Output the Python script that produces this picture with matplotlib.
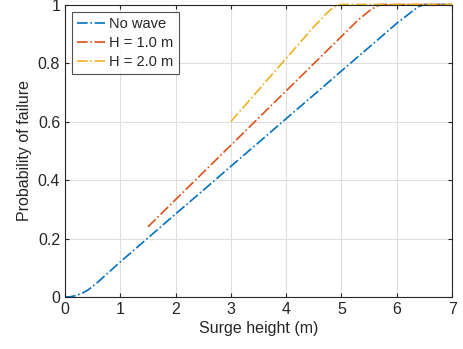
import matplotlib
matplotlib.use("Agg")
import matplotlib.pyplot as plt

# surge height (m) vs probability of failure
x_nowave = [0, 0.1, 0.2, 0.3, 0.4, 0.5, 0.6, 0.8, 1.0, 1.5, 2.0, 2.5, 3.0, 3.5,
            4.0, 4.5, 5.0, 5.5, 6.0, 6.2, 6.3, 6.4, 6.5, 7.0]
p_nowave = [0, 0.001, 0.005, 0.012, 0.022, 0.036, 0.052, 0.086, 0.12, 0.202, 0.284,
            0.365, 0.447, 0.528, 0.61, 0.691, 0.773, 0.854, 0.936, 0.965, 0.98,
            0.993, 1.0, 1.0]

x_h1 = [1.5, 2.0, 2.5, 3.0, 3.5, 4.0, 4.5, 5.0, 5.3, 5.5, 5.6, 5.7, 7.0]
p_h1 = [0.24, 0.333, 0.426, 0.519, 0.612, 0.705, 0.798, 0.891, 0.947, 0.978,
        0.99, 1.0, 1.0]

x_h2 = [3.0, 3.5, 4.0, 4.5, 4.7, 4.8, 4.9, 5.0, 7.0]
p_h2 = [0.6, 0.708, 0.816, 0.924, 0.964, 0.982, 0.995, 1.0, 1.0]

labels = ["No wave", "H = 1.0 m", "H = 2.0 m"]
colors = ["#0072BD", "#D95319", "#EDB120"]

plt.rcParams["font.family"] = ["Liberation Sans", "DejaVu Sans"]
txt = "#262626"

fig = plt.figure(figsize=(4.63, 3.49), dpi=100)
ax = fig.add_axes([0.1404, 0.149, 0.836, 0.838])

for xs, ps, lab, c in zip([x_nowave, x_h1, x_h2], [p_nowave, p_h1, p_h2], labels, colors):
    ax.plot(xs, ps, linestyle="-.", color=c, linewidth=1.2, label=lab, clip_on=False)

ax.set_xlim(0, 7)
ax.set_ylim(0, 1)
ax.set_xticks(range(0, 8))
ax.set_yticks([0, 0.2, 0.4, 0.6, 0.8, 1])
ax.set_yticklabels(["0", "0.2", "0.4", "0.6", "0.8", "1"])
ax.grid(True, color="#dfdfdf", linewidth=0.8)
ax.set_axisbelow(True)
ax.tick_params(direction="in", top=True, right=True, length=3, labelsize=11.5,
               colors=txt, width=0.8)
for s in ax.spines.values():
    s.set_color(txt)
    s.set_linewidth(0.8)

ax.set_xlabel("Surge height (m)", fontsize=11.5, color=txt, labelpad=3)
ax.set_ylabel("Probability of failure", fontsize=11.5, color=txt, labelpad=4)

leg = ax.legend(loc="upper left", fontsize=10.5, frameon=True, fancybox=False,
                edgecolor=txt, handlelength=1.9, borderaxespad=0.5,
                borderpad=0.35, labelspacing=0.35, handletextpad=0.3)
leg.get_frame().set_linewidth(0.8)
for t in leg.get_texts():
    t.set_color(txt)

fig.savefig("out.png", dpi=100)
